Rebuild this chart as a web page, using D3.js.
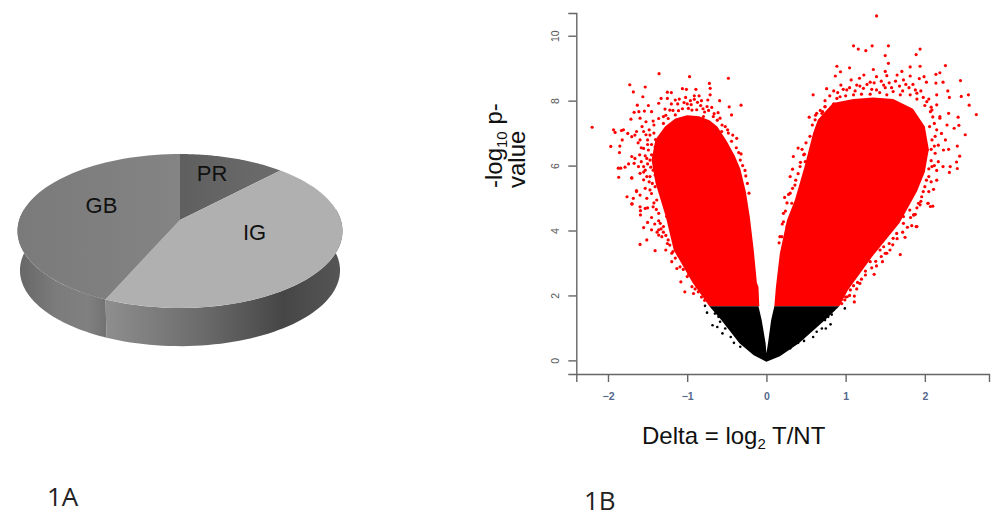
<!DOCTYPE html>
<html lang="en">
<head>
    <meta charset="UTF-8">
    <title>Figure 1</title>
    <style>
        body { margin: 0; background: #fff; }
        svg { display: block; }
        text { font-family: "Liberation Sans", Arial, sans-serif; }
    </style>
</head>
<body>
    <script src="https://d3js.org/d3.v7.min.js"></script>
    <script>
        const width = 995;
        const height = 512;

        // 1A
        const pieLabels = ["PR", "IG", "GB"];
        const pieValues = [12.1, 44.5, 43.4];

        // 1B: as [delta, -log10 p]
        const xTicks = [-2, -1, 0, 1, 2];
        const yTicks = [0, 2, 4, 6, 8, 10];

        // solid parts of the cloud, where single dots cannot be told apart
        const denseLeftRed = [[-.09,1.67],[-.10,2.26],[-.12,2.38],[-.16,3.40],[-.21,4.42],[-.26,5.2],[-.33,5.9],[-.40,6.3],[-.50,6.75],[-.62,7.2],[-.72,7.4],[-.85,7.52],[-1.0,7.55],[-1.15,7.45],[-1.28,7.2],[-1.40,6.8],[-1.45,6.17],[-1.40,5.46],[-1.27,4.42],[-1.17,3.40],[-.93,2.38],[-.72,1.67]];
        const denseRightRed = [[.10,1.67],[.12,2.26],[.17,3.30],[.26,4.32],[.36,4.94],[.48,5.96],[.59,7.0],[.65,7.41],[.84,7.93],[1.1,8.05],[1.35,8.1],[1.6,8.05],[1.85,7.75],[2.0,7.2],[2.05,6.5],[2.0,5.8],[1.9,5.2],[1.68,4.23],[1.33,3.18],[1.03,2.17],[.92,1.67]];
        const denseBlack = [[-.72,1.67],[-.10,1.67],[-.06,1.24],[-.01,.53],[0,.22],[.02,.53],[.06,1.24],[.10,1.67],[.92,1.67],[.74,1.24],[.41,.53],[.17,.13],[0,-.04],[-.16,.16],[-.34,.53],[-.57,1.24]];

        const redLeftPoints = [[-2.2,7.18],[-1.355,8.83],[-.97,8.74],[-.48,8.69],[-1.725,8.49],[-1.53,8.42],[-1.68,8.27],[-1.25,8.26],[-1.56,8.12],[-1.06,8.37],[-1.01,8.35],[-.72,8.53],[-.71,8.38],[-.89,8.35],[-.59,8.00],[-.32,7.86],[-.47,7.81],[-1.63,7.86],[-1.49,7.85],[-1.36,7.92],[-1.33,8.07],[-1.25,8.07],[-1.20,8.25],[-1.15,8.02],[-1.04,7.94],[-.91,8.15],[-.85,8.15],[-.91,8.04],[-.74,8.02],[-.71,8.18],[-.82,8.00],[-1.54,7.68],[-1.45,7.66],[-1.67,7.64],[-1.61,7.66],[-1.28,7.74],[-1.22,7.71],[-1.11,7.69],[-.985,7.76],[-.94,7.71],[-.75,7.82],[-.69,7.79],[-.61,7.63],[-.44,7.56],[-1.71,7.43],[-1.595,7.46],[-1.52,7.35],[-1.43,7.37],[-1.30,7.51],[-1.15,7.56],[-1.01,7.46],[-.795,7.51],[-.67,7.51],[-.585,7.46],[-1.93,7.10],[-1.91,7.02],[-1.83,7.08],[-1.805,7.10],[-1.75,6.99],[-1.66,6.94],[-1.82,6.79],[-1.965,6.59],[-1.85,6.60],[-1.855,6.40],[-1.70,6.28],[-1.66,6.22],[-1.60,6.33],[-1.87,5.92],[-1.84,5.92],[-1.785,5.95],[-1.74,6.05],[-1.865,5.64],[-1.70,5.63],[-1.76,5.04],[-1.64,5.20],[-1.68,4.99],[-1.695,4.82],[-1.595,5.09],[-1.53,5.30],[-1.51,4.99],[-1.59,4.61],[-1.59,4.48],[-1.50,4.25],[-1.55,4.09],[-1.45,4.02],[-.49,7.10],[-.425,6.94],[-.375,6.84],[-.32,6.36],[-.33,6.17],[-.26,5.68],[-.63,7.05],[-.565,7.05],[-.71,7.20],[-1.595,5.76],[-1.53,5.86],[-1.47,6.17],[-1.70,6.89],[-1.595,6.79],[-1.50,6.79],[-1.55,6.53],[-1.49,6.48],[-1.67,6.07],[-1.55,5.97],[-1.43,5.86],[-1.47,5.66],[-1.405,6.58],[-1.47,6.94],[-1.55,7.05],[-1.64,7.05],[-1.45,6.33],[-1.51,6.22],[-1.615,5.97],[-1.405,5.35],[-1.45,5.14],[-1.385,4.94],[-1.43,4.73],[-1.36,4.53],[-1.34,4.22],[-1.36,4.02],[-1.30,4.12],[-1.26,4.43],[-1.405,5.71],[-1.55,5.56],[-1.51,5.66],[-1.70,5.61],[-1.70,4.82],[-1.64,5.23],[-1.595,4.73],[-1.53,4.68],[-1.595,3.57],[-1.51,3.71],[-1.405,3.38],[-1.36,3.86],[-1.32,3.81],[-1.27,3.40],[-1.195,3.04],[-1.24,3.71],[-1.15,3.50],[-1.13,2.83],[-1.09,2.88],[-1.08,2.42],[-1.03,2.11],[-1.00,2.58],[-.94,2.27],[-.92,2.06],[-.97,3.19],[-1.11,3.24],[-1.195,3.30],[-.86,2.11],[-.90,2.53],[-1.05,3.09],
            [-1.42,7.25],[-1.36,7.45],[-1.3,7.3],[-1.24,7.45],[-1.18,7.7],[-1.12,7.9],[-1.06,7.75],[-1.0,7.9],[-.95,7.88],[-.88,7.72],[-.83,7.85],[-.78,7.65],[-.73,7.7],[-.66,7.6],[-.62,7.4],[-.56,7.25],[-.52,7.2],[-.48,7.0],[-.44,6.75],[-.38,6.55],[-.35,6.4],[-.3,6.0],[-.27,5.85],[-.24,5.45],[-.22,5.15],[-1.27,7.55],[-1.2,7.9],[-1.1,8.05],[-1.02,8.1],[-.96,8.0],[-.87,7.95],[-.8,7.75],[-1.42,7.0],[-1.48,7.1],[-1.52,6.95],[-1.57,7.2],[-1.4,6.8],[-1.5,6.65],[-1.58,6.55],[-1.62,6.7],[-1.45,6.65],[-1.53,6.3],[-1.58,6.12],[-1.5,6.05],[-1.55,5.8],[-1.46,5.95],[-1.48,5.5],[-1.44,5.45],[-1.47,5.25],[-1.5,4.7],[-1.42,4.85],[-1.39,4.65],[-1.45,4.4],[-1.41,4.2],[-1.36,4.3],[-1.33,4.05],[-1.38,3.95],[-1.3,3.95],[-1.27,3.85],[-1.25,3.6],[-1.22,3.55],[-1.18,3.35],[-1.15,3.15],[-1.1,3.4],[-1.05,2.8],[-1.0,2.9],[-.98,2.65],[-.94,2.6],[-.9,2.2],[-.85,2.3],[-.82,1.95],[-.78,1.85],[-.75,1.95]];

        const redRightPoints = [[1.39,10.61],[1.10,9.69],[1.16,9.59],[1.255,9.54],[1.335,9.69],[1.54,9.69],[1.94,9.59],[1.89,9.42],[1.50,9.39],[1.54,9.15],[.89,9.06],[1.05,9.01],[1.35,8.96],[1.815,9.04],[1.94,9.06],[2.26,9.08],[.935,8.89],[.87,8.76],[1.50,8.90],[1.71,8.90],[1.23,8.79],[1.175,8.69],[1.39,8.74],[1.52,8.77],[1.65,8.79],[1.815,8.76],[2.14,8.81],[2.19,8.86],[1.99,8.74],[1.93,8.68],[2.45,8.62],[2.23,8.57],[2.14,8.54],[2.02,8.57],[1.07,8.64],[.94,8.48],[.76,8.37],[.59,8.18],[2.29,8.30],[2.31,8.10],[2.46,8.13],[2.55,8.18],[2.56,7.86],[2.65,7.57],[2.42,7.49],[2.43,7.24],[2.37,7.15],[2.51,6.95],[.54,7.49],[.40,6.54],[.34,6.28],[.33,5.89],[1.31,8.57],[1.48,8.48],[1.73,8.64],[1.88,8.33],[1.14,8.48],[1.015,8.33],[.89,8.07],[.74,7.82],[.70,7.61],[.615,7.41],[.66,7.27],[1.225,8.38],[1.39,8.33],[1.60,8.28],[1.815,8.18],[2.025,7.97],[2.15,7.87],[2.30,7.61],[2.19,7.46],[2.15,8.18],[.93,8.12],[1.10,8.18],[1.31,8.20],[1.52,8.18],[1.69,8.18],[1.90,8.23],[2.07,7.66],[2.41,6.60],[2.44,6.29],[2.40,6.11],[2.41,5.91],[2.32,5.97],[2.31,5.79],[2.23,5.97],[2.17,6.12],[2.11,5.27],[2.10,4.75],[2.04,4.84],[1.90,4.12],[1.835,4.15],[1.75,3.79],[2.30,6.50],[2.26,6.79],[2.28,7.25],[2.21,6.99],[2.19,7.51],[2.09,7.71],[2.13,6.38],[2.09,6.79],[2.17,6.63],[2.09,5.97],[2.05,5.66],[2.15,5.55],[2.00,5.35],[1.96,5.04],[1.92,4.84],[1.86,4.48],[2.235,6.48],[2.03,6.48],[.47,6.33],[.49,6.12],[.425,5.97],[.30,5.66],[.36,5.40],[.28,5.11],[.23,5.02],[.32,4.84],[.215,4.53],[.215,4.27],[.26,4.12],[.17,3.81],[.195,3.81],[.16,3.62],[.635,7.61],[.68,7.40],[.615,6.99],[.59,6.68],[.74,7.81],[.71,7.66],[.85,7.90],[1.11,1.80],[1.11,1.98],[1.14,2.20],[1.02,1.96],[.95,1.88],[.99,1.86],[1.36,2.65],[1.39,2.91],[1.465,3.04],[1.69,3.26],[1.89,4.12],[2.04,4.84],[2.07,4.74],[1.52,3.30],[1.56,3.40],[1.595,3.56],[1.645,3.91],[1.73,4.22],[1.86,4.48],[1.94,4.79],[1.25,2.63],[1.31,3.04],[1.435,3.40],[1.48,3.50],[1.60,3.76],[1.73,4.43],[1.81,4.63],[1.18,2.37],[1.06,2.17],
            [.45,6.5],[.5,6.7],[.55,6.9],[.48,6.35],[.43,6.1],[.4,5.75],[.37,5.55],[.33,5.3],[.3,5.15],[.26,4.85],[.24,4.6],[.2,4.2],[.58,7.25],[.62,7.55],[.68,7.7],[.74,8.0],[.8,8.15],[.85,8.3],[.9,8.25],[.97,8.35],[1.0,8.15],[1.05,8.4],[1.12,8.3],[1.18,8.45],[1.2,8.2],[1.27,8.5],[1.33,8.35],[1.36,8.55],[1.43,8.25],[1.45,8.6],[1.5,8.4],[1.55,8.55],[1.58,8.4],[1.63,8.6],[1.68,8.45],[1.72,8.3],[1.76,8.5],[1.8,8.4],[1.85,8.5],[1.9,8.05],[1.95,8.3],[1.98,8.1],[2.0,7.85],[2.05,8.05],[2.08,7.8],[2.1,7.5],[2.12,7.3],[2.06,7.2],[2.15,7.1],[2.13,6.9],[2.08,6.5],[2.12,6.6],[2.08,6.15],[2.12,6.0],[2.15,5.85],[2.05,5.9],[2.08,5.5],[2.02,5.55],[2.05,5.2],[1.98,5.2],[1.95,4.9],[1.9,4.7],[1.88,4.5],[1.82,4.4],[1.78,4.1],[1.72,3.95],[1.65,3.75],[1.55,3.6],[1.5,3.3],[1.45,3.2],[1.38,3.05],[1.33,2.85],[1.25,2.75],[1.2,2.5],[1.15,2.4],[1.1,2.3],[1.05,2.0],[1.0,1.95],[.95,1.75]];

        const blackPoints = [[-.775,1.68],[-.75,1.47],[-.65,1.44],[-.605,1.34],[-.68,1.08],[-.62,1.03],[-.555,.83],[-.45,.72],[-.41,.54],[-.585,1.19],[-.52,.98],[-.33,.42],[.99,1.60],[.825,1.41],[.81,1.11],[.74,1.24],[.75,.98],[.70,.98],[.59,.72],[.635,.88],[.475,.60],[.40,.54],[.30,.37],[.845,1.55],[.78,1.34]];

        const svg = d3.select("body")
        .append("svg")
        .attr("width",width)
        .attr("height",height)

        const defs = svg.append("defs")

        function addGradient(id, x1, x2, stops) {
            const g = defs.append("linearGradient")
            .attr("id",id)
            .attr("gradientUnits","userSpaceOnUse")
            .attr("x1",x1).attr("x2",x2).attr("y1",0).attr("y2",0)
            stops.forEach(s => {
                g.append("stop").attr("offset",s[0]).attr("stop-color",s[1])
            })
        }
        addGradient("sideLeft",17,106,[[0,"#666666"],[0.45,"#7c7c7c"],[0.8,"#808080"],[1,"#727272"]])
        addGradient("sideRight",106,342,[[0,"#8e8e8e"],[0.4,"#6c6c6c"],[0.75,"#464646"],[1,"#565656"]])
        addGradient("topGB",17,180,[[0,"#7a7a7a"],[1,"#848484"]])
        addGradient("topPR",180,280,[[0,"#5f5f5f"],[1,"#6c6c6c"]])

        // ---- pie, tilted: a circle seen in perspective
        const pieCx = 180, pieCy = 220, pieR = 160.8, pieB = 75.4, pieP = 0.1429, pieDepth = 39.5;

        function tilt(a, dy, s) {
            const X = Math.sin(a), Y = -Math.cos(a);
            const w = 1 - pieP * Y;
            return [pieCx + s * pieR * X / w, pieCy + dy + s * pieB * Y / w];
        }

        const arcs = d3.pie().sort(null)(pieValues);
        const pieLine = d3.line();
        const steps = (a0, a1) => d3.range(0, 61).map(i => a0 + (a1 - a0) * i / 60);

        const rim = Math.acos(pieP);
        const cut = arcs[1].endAngle;
        const sides = [
            { fill:"url(#sideRight)", a0:rim, a1:cut },
            { fill:"url(#sideLeft)", a0:cut, a1:2 * Math.PI - rim }
        ];

        const pieG = svg.append("g")

        pieG.selectAll("path.side")
        .data(sides)
        .enter()
        .append("path")
        .attr("class","side")
        .attr("fill",d => d.fill)
        .attr("d",d => {
            const top = steps(d.a0, d.a1).map(a => tilt(a, 0, 1));
            const bottom = steps(d.a1, d.a0).map(a => tilt(a, pieDepth, 0.985));
            return pieLine(top.concat(bottom)) + "Z";
        })

        const topFills = ["url(#topPR)", "#b0b0b0", "url(#topGB)"];

        pieG.selectAll("path.slice")
        .data(arcs)
        .enter()
        .append("path")
        .attr("class","slice")
        .attr("fill",(d,i) => topFills[i])
        .attr("d",d => pieLine([[pieCx,pieCy]].concat(steps(d.startAngle, d.endAngle).map(a => tilt(a, 0, 1)))) + "Z")

        const pieLabelAt = [[212,181],[254.5,240],[101.5,213]];
        pieG.selectAll("text")
        .data(pieLabels)
        .enter()
        .append("text")
        .attr("x",(d,i) => pieLabelAt[i][0])
        .attr("y",(d,i) => pieLabelAt[i][1])
        .attr("text-anchor","middle")
        .attr("font-size",22)
        .attr("fill","#111")
        .text(d => d)

        // ---- volcano plot
        const x = d3.scaleLinear().domain([-2.4,2.81]).range([576.3,989]);
        const y = d3.scaleLinear().domain([-0.42,10.7]).range([374,13]);

        const area = d3.line().x(d => x(d[0])).y(d => y(d[1]));

        const plot = svg.append("g")

        plot.selectAll("path.red")
        .data([denseLeftRed, denseRightRed])
        .enter()
        .append("path")
        .attr("class","red")
        .attr("fill","#ff0000")
        .attr("d",d => area(d) + "Z")

        plot.selectAll("circle.red")
        .data(redLeftPoints.concat(redRightPoints))
        .enter()
        .append("circle")
        .attr("class","red")
        .attr("cx",d => x(d[0]))
        .attr("cy",d => y(d[1]))
        .attr("r",1.6)
        .attr("fill","#ff0000")

        plot.append("path")
        .attr("fill","#000")
        .attr("d",area(denseBlack) + "Z")

        plot.selectAll("circle.black")
        .data(blackPoints)
        .enter()
        .append("circle")
        .attr("class","black")
        .attr("cx",d => x(d[0]))
        .attr("cy",d => y(d[1]))
        .attr("r",1.3)
        .attr("fill","#000")

        const xAxis = svg.append("g")
        .attr("transform","translate(0,374)")
        .call(d3.axisBottom(x).tickValues(xTicks).tickSizeOuter(0).tickSize(8).tickPadding(11).tickFormat(d => d < 0 ? "\u2212" + (-d) : d))

        const yAxis = svg.append("g")
        .attr("transform","translate(576.3,0)")
        .call(d3.axisLeft(y).tickValues(yTicks).tickSizeOuter(0).tickSize(8).tickPadding(8))

        svg.selectAll(".domain,.tick line")
        .attr("stroke","#666")
        .attr("stroke-width",1.4)

        xAxis.selectAll("text")
        .attr("font-size",10.5)
        .attr("font-weight","bold")
        .attr("font-family","'Liberation Sans', Arial, sans-serif")
        .attr("fill","#55698c")

        yAxis.selectAll("text")
        .attr("font-size",10.5)
        .attr("font-family","'Liberation Sans', Arial, sans-serif")
        .attr("fill","#555")
        .attr("text-anchor","middle")
        .attr("x",0)
        .attr("y",0)
        .attr("dy",0)
        .attr("transform","translate(-17,0) rotate(-90)")

        // ---- axis titles
        const yTitle = svg.append("g")
        .attr("transform","translate(502,188) rotate(-90)")
        .attr("font-size",24)
        .attr("fill","#111")

        const firstLine = yTitle.append("text")
        firstLine.append("tspan").text("-log")
        firstLine.append("tspan").attr("font-size",15).attr("dy",5).text("10")
        firstLine.append("tspan").attr("dy",-5).text(" p-")

        yTitle.append("text").attr("y",23).text("value")

        const xTitle = svg.append("text")
        .attr("x",642)
        .attr("y",444)
        .attr("font-size",24)
        .attr("fill","#111")
        xTitle.append("tspan").text("Delta = log")
        xTitle.append("tspan").attr("font-size",15).attr("dy",5).text("2")
        xTitle.append("tspan").attr("dy",-5).text(" T/NT")

        // ---- panel labels
        svg.selectAll("text.panel")
        .data([["1A",47,506],["1B",584,510]])
        .enter()
        .append("text")
        .attr("class","panel")
        .attr("x",d => d[1])
        .attr("y",d => d[2])
        .attr("font-size",26)
        .attr("fill","#222")
        .style("font-family","'Open Sans', sans-serif")
        .text(d => d[0])
    </script>
</body>
</html>
